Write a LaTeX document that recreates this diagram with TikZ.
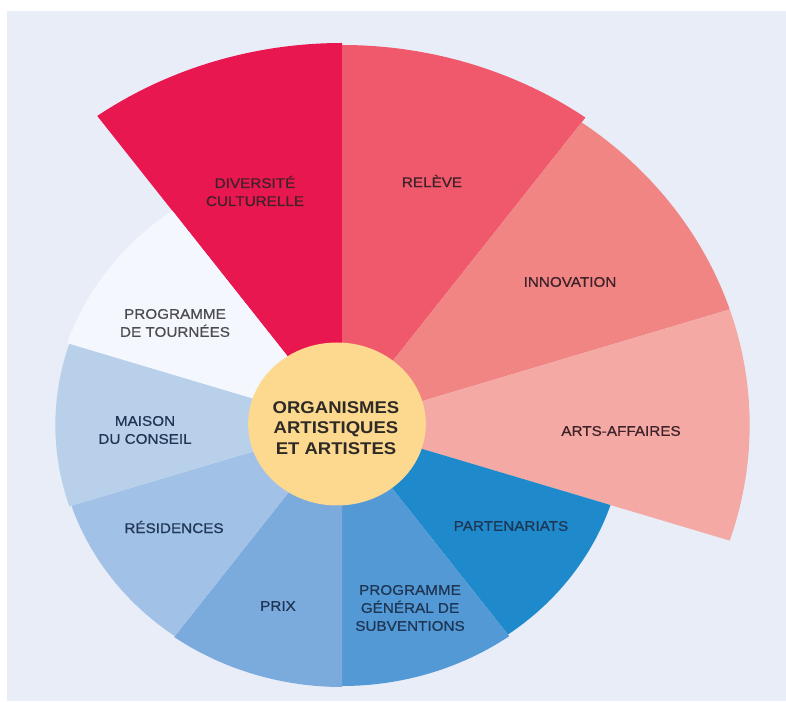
\documentclass[tikz,border=0pt]{standalone}
\usepackage{fontspec}
\setmainfont{Liberation Sans}[FakeStretch=1.09]
\newfontfamily\lblfont{Liberation Sans}[FakeStretch=1.09, FakeBold=0.6]
\definecolor{bgc}{HTML}{E8EDF8}
\definecolor{cdiv}{HTML}{E9174F}
\definecolor{crel}{HTML}{F0586B}
\definecolor{cinn}{HTML}{F18584}
\definecolor{caa}{HTML}{F4A9A4}
\definecolor{cpar}{HTML}{1F8ACB}
\definecolor{cpg}{HTML}{5299D6}
\definecolor{cprix}{HTML}{7BAADD}
\definecolor{cres}{HTML}{A2C1E7}
\definecolor{cmai}{HTML}{B9D0EB}
\definecolor{ctou}{HTML}{F4F7FD}
\definecolor{ccen}{HTML}{FCD98F}
\definecolor{txtred}{HTML}{3E2229}
\definecolor{txtblue}{HTML}{1E3553}
\definecolor{txtgray}{HTML}{4A4C52}
\definecolor{txtcen}{HTML}{2E2A25}
\begin{document}
\begin{tikzpicture}[x=1pt,y=1pt,
  lbl/.style={font=\lblfont\fontsize{14}{18}\selectfont, align=center, inner sep=0pt},
  redtxt/.style={lbl, text=txtred},
  bluetxt/.style={lbl, text=txtblue},
  graytxt/.style={lbl, text=txtgray},
  centxt/.style={font=\fontsize{17}{20.5}\selectfont\bfseries, align=center, inner sep=0pt, text=txtcen}]
\fill[white] (0,0) rectangle (786,701);
\fill[bgc] (7,0) rectangle (786,690);
\begin{scope}[shift={(342,276)}, xscale=1.09]
  \fill[cdiv] (0,0) -- (90:382) arc[start angle=90, end angle=126, radius=382] -- cycle;
  \fill[crel] (0,0) -- (54:380) arc[start angle=54, end angle=90, radius=380] -- cycle;
  \fill[cinn] (0,0) -- (18:374) arc[start angle=18, end angle=54, radius=374] -- cycle;
  \fill[caa] (0,0) -- (-18:374) arc[start angle=-18, end angle=18, radius=374] -- cycle;
  \fill[cpar] (0,0) -- (-54:259) arc[start angle=-54, end angle=-18, radius=259] -- cycle;
  \fill[cpg] (0,0) -- (-90:261) arc[start angle=-90, end angle=-54, radius=261] -- cycle;
  \fill[cprix] (0,0) -- (-126:262) arc[start angle=-126, end angle=-90, radius=262] -- cycle;
  \fill[cres] (0,0) -- (-162:261) arc[start angle=-162, end angle=-126, radius=261] -- cycle;
  \fill[cmai] (0,0) -- (162:263) arc[start angle=162, end angle=198, radius=263] -- cycle;
  \fill[ctou] (0,0) -- (126:265) arc[start angle=126, end angle=162, radius=265] -- cycle;
  \fill[ccen] (-4.6,1) circle[radius=81.5];
\end{scope}
\node[redtxt] (div) at (255,510) {DIVERSITÉ\\CULTURELLE};
\node[redtxt] (rel) at (432,520) {RELÈVE};
\node[redtxt] (inn) at (570,419) {INNOVATION};
\node[redtxt] (aa) at (621,270) {ARTS-AFFAIRES};
\node[bluetxt] (par) at (511,175) {PARTENARIATS};
\node[bluetxt] (pg) at (410,93) {PROGRAMME\\GÉNÉRAL DE\\SUBVENTIONS};
\node[bluetxt] (prix) at (278,95) {PRIX};
\node[bluetxt] (res) at (174,174) {RÉSIDENCES};
\node[bluetxt] (mai) at (145,271) {MAISON\\DU CONSEIL};
\node[graytxt] (tou) at (175,378) {PROGRAMME\\DE TOURNÉES};
\node[centxt] (org) at (336,273) {ORGANISMES\\ARTISTIQUES\\ET ARTISTES};
\end{tikzpicture}
\end{document}
